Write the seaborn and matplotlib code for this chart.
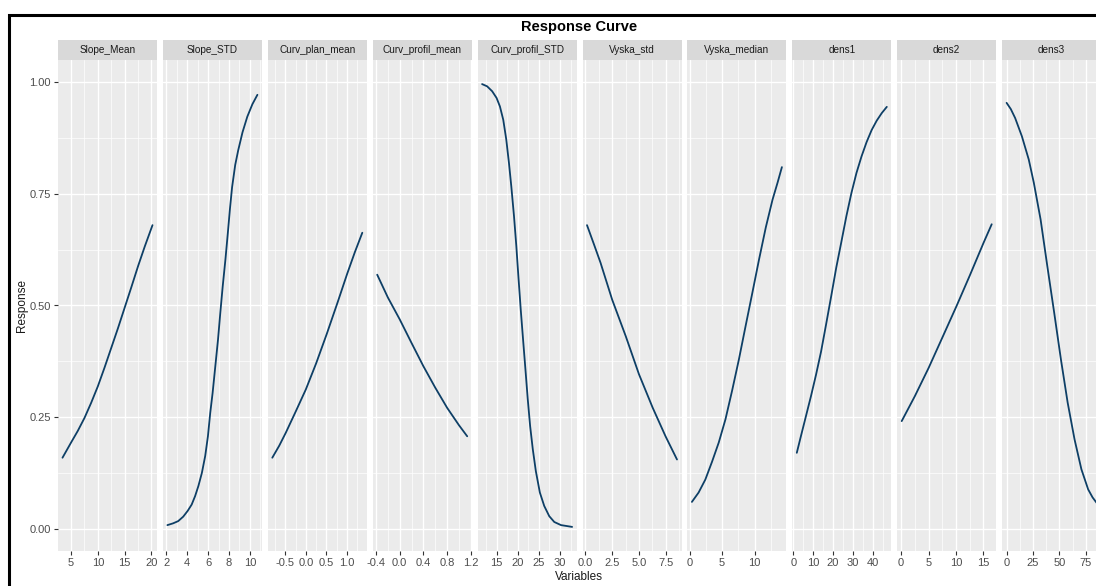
import matplotlib.pyplot as plt
import numpy as np
import pandas as pd
import seaborn as sns
from matplotlib.patches import Rectangle

# response curves, one pair of lists per variable
slope_mean_x = [3.4, 5, 6.25, 7.5, 8.75, 10, 11.25, 12.5, 13.75, 15, 16.25, 17.5, 18.75, 20.2]
slope_mean_y = [0.159, 0.193, 0.219, 0.248, 0.282, 0.319, 0.361, 0.405, 0.449, 0.495, 0.541,
                0.588, 0.632, 0.680]

slope_std_x = [2.09, 2.64, 3.13, 3.61, 4.04, 4.42, 4.75, 5.07, 5.40, 5.72, 5.98, 6.20, 6.43, 6.69,
               6.95, 7.17, 7.40, 7.66, 7.89, 8.1, 8.3, 8.6, 8.89, 9.3, 9.76, 10.25, 10.73]
slope_std_y = [0.008, 0.012, 0.017, 0.027, 0.040, 0.054, 0.073, 0.096, 0.125, 0.163, 0.207, 0.259,
               0.304, 0.364, 0.424, 0.484, 0.543, 0.603, 0.662, 0.718, 0.765, 0.815, 0.848, 0.888,
               0.923, 0.951, 0.972]

curv_plan_x = [-0.82, -0.65, -0.49, -0.25, 0.0, 0.25, 0.51, 0.78, 1.01, 1.2, 1.38]
curv_plan_y = [0.159, 0.186, 0.215, 0.262, 0.312, 0.370, 0.436, 0.508, 0.571, 0.620, 0.663]

curv_profil_x = [-0.38, -0.2, 0.0, 0.2, 0.4, 0.6, 0.8, 1.0, 1.14]
curv_profil_y = [0.569, 0.518, 0.469, 0.416, 0.364, 0.316, 0.271, 0.232, 0.207]

curv_profil_std_x = [11.58, 12.77, 13.96, 15.0, 15.79, 16.58, 17.29, 17.93, 18.48, 19.12, 19.67,
                     20.15, 20.71, 21.26, 21.82, 22.37, 22.93, 23.56, 24.28, 25.23, 26.26, 27.45,
                     28.64, 30.23, 32.85]
curv_profil_std_y = [0.996, 0.991, 0.980, 0.965, 0.946, 0.916, 0.872, 0.819, 0.767, 0.700, 0.633,
                     0.566, 0.491, 0.424, 0.357, 0.290, 0.230, 0.178, 0.129, 0.081, 0.051, 0.028,
                     0.015, 0.008, 0.004]

vyska_std_x = [0.15, 0.8, 1.41, 2.5, 3.77, 5.0, 6.28, 7.48, 8.55]
vyska_std_y = [0.680, 0.637, 0.596, 0.513, 0.431, 0.346, 0.271, 0.207, 0.155]

vyska_median_x = [0.36, 1.39, 2.42, 3.45, 4.48, 5.51, 6.54, 7.57, 8.6, 9.63, 10.66, 11.7, 12.73,
                  13.5, 14.17]
vyska_median_y = [0.060, 0.081, 0.110, 0.150, 0.193, 0.245, 0.310, 0.379, 0.454, 0.528, 0.603,
                  0.675, 0.737, 0.775, 0.810]

dens1_x = [1.7, 3.76, 6.31, 8.86, 11.41, 13.96, 16.5, 19.07, 21.62, 24.17, 26.72, 29.27, 31.82,
           34.37, 36.92, 39.47, 42.02, 44.57, 47.13]
dens1_y = [0.170, 0.207, 0.252, 0.297, 0.345, 0.397, 0.458, 0.521, 0.585, 0.642, 0.700, 0.752,
           0.797, 0.834, 0.866, 0.893, 0.914, 0.931, 0.945]

dens2_x = [0.1, 2.5, 5.0, 7.5, 10.1, 12.5, 15.0, 16.5]
dens2_y = [0.241, 0.297, 0.360, 0.428, 0.499, 0.567, 0.640, 0.682]

dens3_x = [0, 4, 8.1, 14.5, 21, 25.8, 32.2, 38.6, 45.1, 51.5, 57.9, 64.4, 70.9, 77.3, 81.5, 85.3]
dens3_y = [0.954, 0.940, 0.920, 0.879, 0.827, 0.775, 0.693, 0.588, 0.484, 0.379, 0.282, 0.200,
           0.133, 0.088, 0.070, 0.058]

variables = ["Slope_Mean", "Slope_STD", "Curv_plan_mean", "Curv_profil_mean", "Curv_profil_STD",
             "Vyska_std", "Vyska_median", "dens1", "dens2", "dens3"]

x_tick_labels = {
    "Slope_Mean": ["5", "10", "15", "20"],
    "Slope_STD": ["2", "4", "6", "8", "10"],
    "Curv_plan_mean": ["-0.5", "0.0", "0.5", "1.0"],
    "Curv_profil_mean": ["-0.4", "0.0", "0.4", "0.8", "1.2"],
    "Curv_profil_STD": ["15", "20", "25", "30"],
    "Vyska_std": ["0.0", "2.5", "5.0", "7.5"],
    "Vyska_median": ["0", "5", "10"],
    "dens1": ["0", "10", "20", "30", "40"],
    "dens2": ["0", "5", "10", "15"],
    "dens3": ["0", "25", "50", "75"],
}
y_tick_labels = ["0.00", "0.25", "0.50", "0.75", "1.00"]

curves = [
    (slope_mean_x, slope_mean_y), (slope_std_x, slope_std_y), (curv_plan_x, curv_plan_y),
    (curv_profil_x, curv_profil_y), (curv_profil_std_x, curv_profil_std_y),
    (vyska_std_x, vyska_std_y), (vyska_median_x, vyska_median_y),
    (dens1_x, dens1_y), (dens2_x, dens2_y), (dens3_x, dens3_y),
]
df = pd.concat(
    [pd.DataFrame({"variable": v, "x": cx, "response": cy}) for v, (cx, cy) in zip(variables, curves)],
    ignore_index=True,
)

sns.set_style("darkgrid", {"axes.facecolor": "#EBEBEB", "grid.color": "white"})
plt.rcParams["font.family"] = ["Liberation Sans", "DejaVu Sans"]

W, H = 1096, 586
fig = plt.figure(figsize=(W / 100, H / 100), dpi=100)
fig.patch.set_facecolor("white")

# ggplot-like panel geometry (pixels)
left0, step, pw = 58, 104.9, 99
ptop, pbot = 60, 551
strip_h = 20

def expand(lo, hi):
    r = hi - lo
    return lo - 0.05 * r, hi + 0.05 * r

# response scale runs 0..1
ylim = expand(0.0, 1.0)
yt = [float(t) for t in y_tick_labels]
yminor = [(a + b) / 2 for a, b in zip(yt[:-1], yt[1:])]

for i, var in enumerate(variables):
    x0 = left0 + i * step
    ax = fig.add_axes([x0 / W, (H - pbot) / H, pw / W, (pbot - ptop) / H])
    sub = df[df["variable"] == var]
    sns.lineplot(data=sub, x="x", y="response", ax=ax, color="#0E3F66", lw=1.3, sort=False)

    xlim = expand(sub["x"].min(), sub["x"].max())
    ax.set_xlim(xlim)
    ax.set_ylim(ylim)

    labels = x_tick_labels[var]
    xt = [float(t) for t in labels]
    d = xt[1] - xt[0]
    xminor = [xt[0] - d / 2] + [a + d / 2 for a in xt]
    xminor = [m for m in xminor if xlim[0] <= m <= xlim[1]]
    ax.set_xticks(xt)
    ax.set_xticklabels(labels)
    ax.set_xticks(xminor, minor=True)
    ax.set_yticks(yt)
    ax.set_yticks(yminor, minor=True)
    if i == 0:
        ax.set_yticklabels(y_tick_labels)
    else:
        ax.set_yticklabels([])

    ax.grid(which="major", color="white", lw=1.0)
    ax.grid(which="minor", color="white", lw=0.5)
    ax.set_axisbelow(True)
    for s in ax.spines.values():
        s.set_visible(False)
    ax.tick_params(which="major", direction="out", length=2.6, width=0.8, color="#333333",
                   labelsize=8, labelcolor="#4D4D4D", pad=2.5,
                   left=(i == 0), bottom=True)
    ax.tick_params(which="minor", length=0)
    ax.set_xlabel("")
    ax.set_ylabel("")

    # facet strip
    sh = strip_h / (pbot - ptop)
    ax.add_patch(Rectangle((0, 1), 1, sh, transform=ax.transAxes, facecolor="#D9D9D9",
                           edgecolor="none", clip_on=False))
    ax.text(0.5, 1 + sh / 2, var, transform=ax.transAxes, ha="center", va="center",
            fontsize=7.2, color="#1A1A1A")

fig.text(579 / W, 1 - 27 / H, "Response Curve", ha="center", va="center", fontsize=10.5,
         fontweight="bold", color="black")
fig.text(579 / W, 1 - 577 / H, "Variables", ha="center", va="center", fontsize=8.5, color="#1A1A1A")
fig.text(22 / W, 1 - 305.5 / H, "Response", ha="center", va="center", rotation=90,
         fontsize=8.5, color="#1A1A1A")

# black frame around the plot (cropped on the right and bottom like the reference)
fig.patches.append(Rectangle((9 / W, -0.5), 2.0, 1.5 - 14.5 / H, transform=fig.transFigure,
                             fill=False, edgecolor="black", lw=2.2))

fig.savefig("out.png", dpi=100)
